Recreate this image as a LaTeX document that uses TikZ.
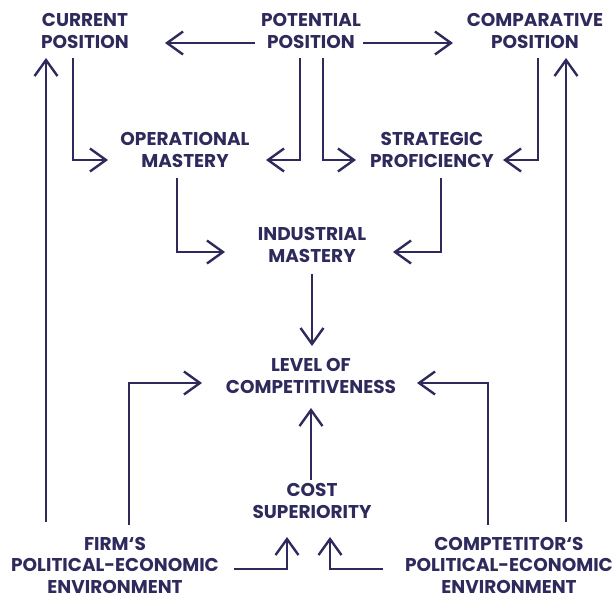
\documentclass[tikz,border=0pt]{standalone}
\usepackage{fontspec}
\setmainfont{Poppins}[BoldFont=* Bold]
\usetikzlibrary{arrows.meta}
\definecolor{ink}{HTML}{2E2A5C}
\tikzset{
  lbl/.style={font=\fontsize{18.5}{21.5}\selectfont\bfseries, text=ink, align=center, inner sep=0pt},
  arr/.style={draw=ink, line width=2.4pt, -{Straight Barb[length=16pt,width=23pt]}},
}
\begin{document}
\begin{tikzpicture}[x=1pt,y=-1pt]
\useasboundingbox (0,0) rectangle (616,598);
\node[lbl] (cur)   at (85,31)   {CURRENT\\POSITION};
\node[lbl] (pot)   at (311,31)  {POTENTIAL\\POSITION};
\node[lbl] (comp)  at (535,31)  {COMPARATIVE\\POSITION};
\node[lbl] (op)    at (185,150) {OPERATIONAL\\MASTERY};
\node[lbl] (strat) at (432,150) {STRATEGIC\\PROFICIENCY};
\node[lbl] (ind)   at (312,245) {INDUSTRIAL\\MASTERY};
\node[lbl] (lev)   at (311,376) {LEVEL OF\\COMPETITIVENESS};
\node[lbl] (cost)  at (312,501) {COST\\SUPERIORITY};
\node[lbl] (firm)  at (115,565) {FIRM‘S\\POLITICAL-ECONOMIC\\ENVIRONMENT};
\node[lbl] (compt) at (509,565) {COMPTETITOR‘S\\POLITICAL-ECONOMIC\\ENVIRONMENT};

\draw[arr] ([shift={(-56,12)}]pot.center) -- ([shift={(80,12)}]cur.center);
\draw[arr] ([shift={(52,12)}]pot.center) -- ([shift={(-82,12)}]comp.center);
\draw[arr] ([shift={(-12,27)}]cur.center) |- ([shift={(-77,10)}]op.center);
\draw[arr] ([shift={(-11,27)}]pot.center) |- ([shift={(81,10)}]op.center);
\draw[arr] ([shift={(12,27)}]pot.center) |- ([shift={(-76,10)}]strat.center);
\draw[arr] ([shift={(3,27)}]comp.center) |- ([shift={(71,10)}]strat.center);
\draw[arr] ([shift={(-8,28)}]op.center) |- ([shift={(-87,7)}]ind.center);
\draw[arr] ([shift={(9,28)}]strat.center) |- ([shift={(81,7)}]ind.center);
\draw[arr] ([shift={(0,29)}]ind.center) -- ([shift={(1,-30)}]lev.center);
\draw[arr] ([shift={(-1,-21)}]cost.center) -- ([shift={(0,32)}]lev.center);
\draw[arr] ([shift={(14,-40)}]firm.center) |- ([shift={(-109,7)}]lev.center);
\draw[arr] ([shift={(-21,-40)}]compt.center) |- ([shift={(106,7)}]lev.center);
\draw[arr] ([shift={(119,4)}]firm.center) -| ([shift={(-25,36)}]cost.center);
\draw[arr] ([shift={(-126,4)}]compt.center) -| ([shift={(18,36)}]cost.center);
\draw[arr] ([shift={(-69,-43)}]firm.center) -- ([shift={(-39,27)}]cur.center);
\draw[arr] ([shift={(57,-43)}]compt.center) -- ([shift={(31,27)}]comp.center);
\end{tikzpicture}
\end{document}
